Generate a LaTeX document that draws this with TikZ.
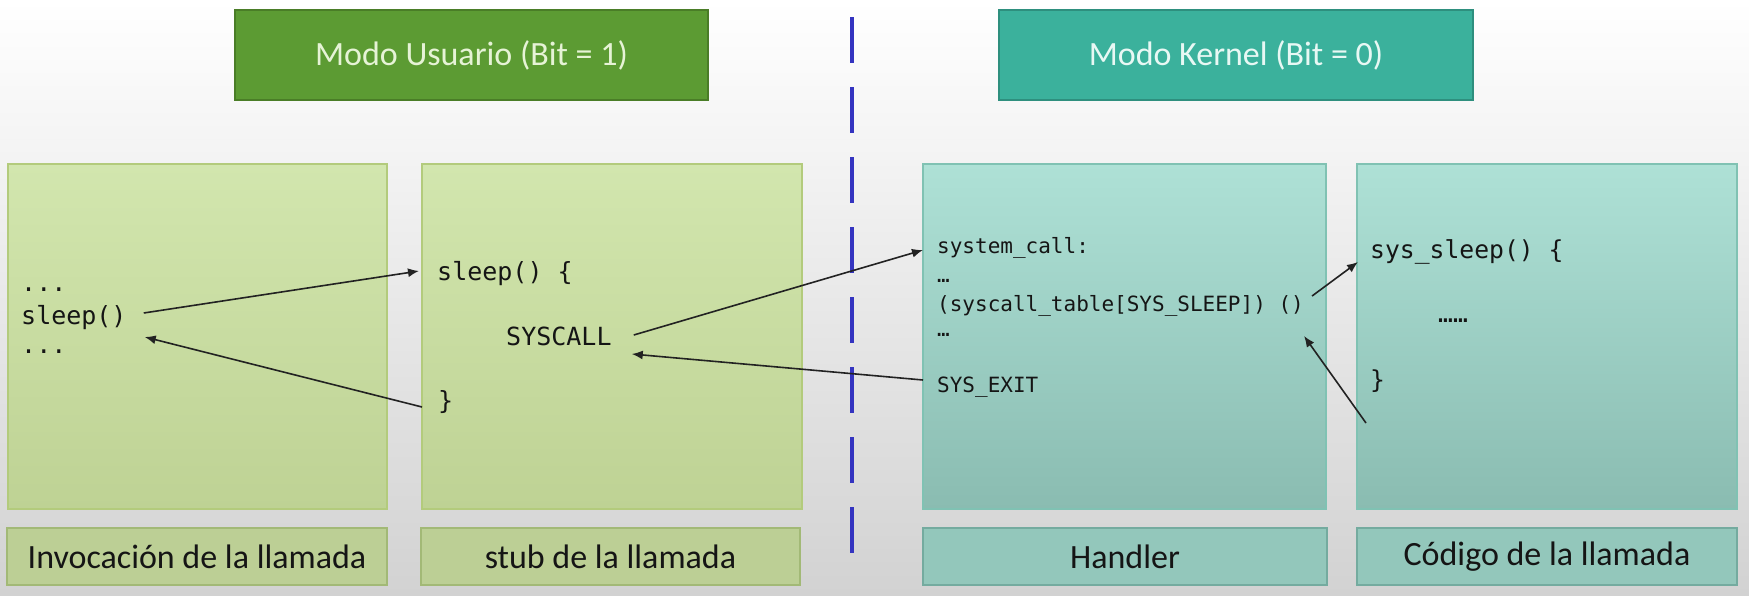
\documentclass[tikz,border=0pt]{standalone}
\usepackage{fontspec}
\setmainfont{Carlito}
\newfontfamily\codefont{DejaVu Sans Mono}
\usetikzlibrary{calc,arrows.meta}
\definecolor{bgbottom}{HTML}{D2D2D2}
\definecolor{bgmid}{HTML}{F1F1F1}
\definecolor{gtitle}{HTML}{5C9B33}
\definecolor{gtitleb}{HTML}{4A7D27}
\definecolor{gtitletxt}{HTML}{E6F3D6}
\definecolor{ttitle}{HTML}{3BB19C}
\definecolor{ttitleb}{HTML}{2E8F7E}
\definecolor{ttitletxt}{HTML}{E8F8F4}
\definecolor{gtop}{HTML}{D2E6AE}
\definecolor{gbot}{HTML}{BED294}
\definecolor{gborder}{HTML}{B3CB7C}
\definecolor{glab}{HTML}{BCCF95}
\definecolor{glabb}{HTML}{A2B976}
\definecolor{ttop}{HTML}{AEE1D6}
\definecolor{tbot}{HTML}{8ABCB1}
\definecolor{tborder}{HTML}{80C2B3}
\definecolor{tlab}{HTML}{93C7BB}
\definecolor{tlabb}{HTML}{74AB9F}
\definecolor{codeblack}{HTML}{151515}
\definecolor{arrowgray}{HTML}{222222}
\definecolor{dashblue}{HTML}{3434C0}
\begin{document}
\begin{tikzpicture}[x=1pt,y=-1pt,
  gtitlebox/.style={draw=gtitleb, line width=2pt, fill=gtitle, text=gtitletxt, font=\fontsize{34}{40}\selectfont},
  ttitlebox/.style={draw=ttitleb, line width=2pt, fill=ttitle, text=ttitletxt, font=\fontsize{34}{40}\selectfont},
  gbox/.style={draw=gborder, line width=1.5pt, top color=gtop, bottom color=gbot, minimum height=345pt, inner sep=0pt},
  tbox/.style={draw=tborder, line width=1.5pt, top color=ttop, bottom color=tbot, minimum height=345pt, inner sep=0pt},
  glabel/.style={draw=glabb, line width=1.5pt, fill=glab, text=codeblack, minimum height=57pt, inner sep=0pt, font=\fontsize{34}{40}\selectfont},
  tlabel/.style={draw=tlabb, line width=1.5pt, fill=tlab, text=codeblack, minimum height=57pt, inner sep=0pt, font=\fontsize{34}{40}\selectfont},
  codeA/.style={font=\codefont\fontsize{25}{30}\selectfont, inner sep=0pt, anchor=base west, text=codeblack},
  codeC/.style={font=\codefont\fontsize{21}{25}\selectfont, inner sep=0pt, anchor=base west, text=codeblack},
  codeD/.style={font=\codefont\fontsize{24.7}{30}\selectfont, inner sep=0pt, anchor=base west, text=codeblack},
  arr/.style={draw=arrowgray, line width=1.6pt, -{Latex[length=11pt,width=9pt]}},
  sepline/.style={draw=dashblue, line width=3.2pt, dash pattern=on 46pt off 24pt}
]
\useasboundingbox (0,0) rectangle (1749,595);
\shade[top color=white, middle color=bgmid, bottom color=bgbottom] (0,0) rectangle (1749,595);

% titles
\node[gtitlebox, minimum width=473pt, minimum height=90pt] (tuser) at (471.5,55) {Modo Usuario (Bit = 1)};
\node[ttitlebox, minimum width=474pt, minimum height=90pt] (tkern) at (1236,55) {Modo Kernel (Bit = 0)};

% separator
\coordinate (septop) at (852,17);
\coordinate (sepbot) at (852,555);
\draw[sepline] (septop) -- (sepbot);

% main boxes
\node[gbox, minimum width=379pt] (b1) at (197.5,336.5) {};
\node[gbox, minimum width=380pt] (b2) at (612,336.5) {};
\node[tbox, minimum width=403pt] (b3) at (1124.5,336.5) {};
\node[tbox, minimum width=380pt] (b4) at (1547,336.5) {};

% labels
\node[glabel, minimum width=380pt] (l1) at (197,556.5) {Invocación de la llamada};
\node[glabel, minimum width=379pt] (l2) at (610.5,556.5) {stub de la llamada};
\node[tlabel, minimum width=404pt] (l3) at (1125,556.5) {Handler};
\node[tlabel, minimum width=380pt] (l4) at (1547,556.5) {Código de la llamada};

% code texts
\node[codeA] (dotsA1) at (21,291) {...};
\node[codeA] (sleepA) at (21,324) {sleep()};
\node[codeA] (dotsA2) at (21,353) {...};

\node[codeA] (sleepB) at (437,280) {sleep() \{};
\node[codeA] (syscallB) at (506,345) {SYSCALL};
\node[codeA] (braceB) at (438,409) {\}};

\node[codeC] (sysc) at (937,253) {system\_call:};
\node[codeC] (ell1) at (937,282) {…};
\node[codeC] (table) at (937,311) {(syscall\_table[SYS\_SLEEP]) ()};
\node[codeC] (ell2) at (937,336) {…};
\node[codeC] (sysexit) at (937,392) {SYS\_EXIT};

\node[codeD] (sysSleep) at (1370,258) {sys\_sleep() \{};
\node[codeD] (ellD) at (1438,322) {……};
\node[codeD] (braceD) at (1370,388) {\}};

% arrows
\draw[arr] ($(sleepA.base east)+(17,-11)$) -- ($(sleepB.base west)+(-18,-9)$);
\draw[arr] ($(braceB.base west)+(-16,-2)$) -- ($(sleepA.base east)+(18,13)$);
\draw[arr] ($(syscallB.base east)+(22,-10)$) -- ($(sysc.base west)+(-14,-3)$);
\draw[arr] ($(sysexit.base west)+(-14,-12)$) -- ($(syscallB.base east)+(20,9)$);
\draw[arr] ($(table.base east)+(8,-15)$) -- ($(sysSleep.base west)+(-12,4)$);
\draw[arr] ($(braceD.base west)+(-4,35)$) -- ($(table.base east)+(0,25)$);
\end{tikzpicture}
\end{document}
